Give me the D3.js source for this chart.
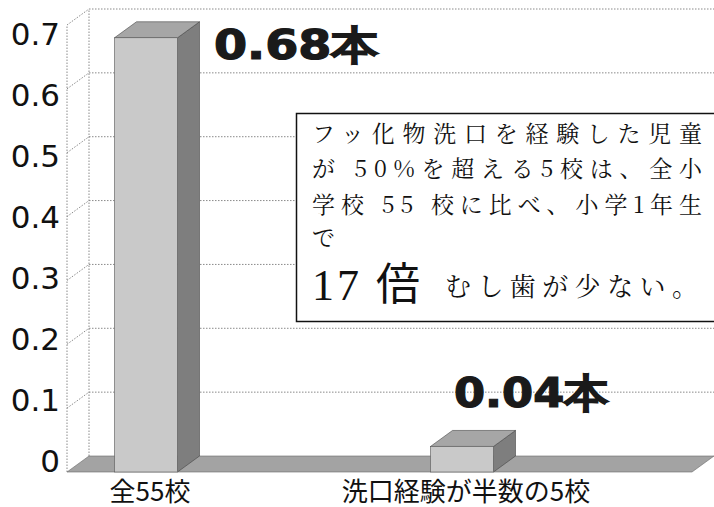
<!DOCTYPE html>
<html>
<head>
<meta charset="utf-8">
<script src="https://cdn.jsdelivr.net/npm/d3@7"></script>
<style>
  body { margin: 0; background: #fff; }
  svg { display: block; }
</style>
</head>
<body>
<script>
// data
var categories = ["全55校", "洗口経験が半数の5校"];
var values = [0.68, 0.04];
var valueLabels = ["0.68本", "0.04本"];
var yTicks = [0, 0.1, 0.2, 0.3, 0.4, 0.5, 0.6, 0.7];
var tickLabels = ["0", "0.1", "0.2", "0.3", "0.4", "0.5", "0.6", "0.7"];
var noteLines = [
  "フッ化物洗口を経験した児童",
  "が 50%を超える5校は、全小",
  "学校 55 校に比べ、小学1年生",
  "で"
];
var noteBig = "17 倍";
var noteTail = "むし歯が少ない。";

var width = 714;
var height = 507;
var svg = d3.select("body")
    .append("svg")
    .attr("width", width)
    .attr("height", height);

// 3d depth of the floor / walls
var dx = 22, dy = -16;
var x0 = 67, xEnd = 692;

var y = d3.scaleLinear().domain([0, 0.7]).range([472, 25]);
// tick labels sit a little tighter than the grid in the picture
var yLab = d3.scaleLinear().domain([0, 0.7]).range([461, 34]);
var x = d3.scalePoint().domain(categories).range([146, 462]);
var barW = 63;

var grid = svg.append("g")
    .attr("fill", "none")
    .attr("stroke", "#8a8a8a")
    .attr("stroke-width", 1)
    .attr("stroke-dasharray", "1.5,1.5");

// back wall lines
grid.selectAll("line.back")
    .data(yTicks.slice(1))
    .enter()
    .append("line")
    .attr("x1", x0 + dx)
    .attr("x2", width)
    .attr("y1", function(d){ return y(d) + dy; })
    .attr("y2", function(d){ return y(d) + dy; });

// side wall diagonals
grid.selectAll("line.diag")
    .data(yTicks.slice(1))
    .enter()
    .append("line")
    .attr("x1", x0)
    .attr("x2", x0 + dx)
    .attr("y1", function(d){ return y(d); })
    .attr("y2", function(d){ return y(d) + dy; });

grid.append("line")
    .attr("x1", x0).attr("x2", x0)
    .attr("y1", y(0)).attr("y2", y(0.7));
grid.append("line")
    .attr("x1", x0 + dx).attr("x2", x0 + dx)
    .attr("y1", y(0) + dy).attr("y2", y(0.7) + dy);

// floor
svg.append("polygon")
    .attr("points", [
        [x0, y(0)], [xEnd, y(0)], [xEnd + dx, y(0) + dy], [x0 + dx, y(0) + dy]
    ].join(" "))
    .attr("fill", "#a3a3a3")
    .attr("stroke", "#6a6a6a")
    .attr("stroke-width", 0.6);

// bars
var bars = svg.selectAll("g.bar")
    .data(values)
    .enter()
    .append("g")
    .attr("class", "bar");

bars.append("polygon") // side
    .attr("points", function(d, i){
        var r = x(categories[i]) + barW / 2;
        return [[r, y(d)], [r + dx, y(d) + dy], [r + dx, y(0) + dy], [r, y(0)]].join(" ");
    })
    .attr("fill", "#7e7e7e")
    .attr("stroke", "#444")
    .attr("stroke-width", 0.6);

bars.append("polygon") // top
    .attr("points", function(d, i){
        var l = x(categories[i]) - barW / 2, r = l + barW;
        return [[l, y(d)], [l + dx, y(d) + dy], [r + dx, y(d) + dy], [r, y(d)]].join(" ");
    })
    .attr("fill", "#a6a6a6")
    .attr("stroke", "#444")
    .attr("stroke-width", 0.6);

bars.append("rect") // front
    .attr("x", function(d, i){ return x(categories[i]) - barW / 2; })
    .attr("y", function(d){ return y(d); })
    .attr("width", barW)
    .attr("height", function(d){ return y(0) - y(d); })
    .attr("fill", "#c9c9c9")
    .attr("stroke", "#555")
    .attr("stroke-width", 0.6);

// y tick labels
svg.selectAll("text.tick")
    .data(yTicks)
    .enter()
    .append("text")
    .attr("x", 60)
    .attr("y", function(d){ return yLab(d); })
    .attr("dy", "0.36em")
    .attr("text-anchor", "end")
    .style("font-family", "'DejaVu Sans', sans-serif")
    .style("font-size", "31px")
    .style("fill", "#111")
    .text(function(d, i){ return tickLabels[i]; });

// category labels
svg.selectAll("text.cat")
    .data(categories)
    .enter()
    .append("text")
    .attr("x", function(d){ return x(d) + 4; })
    .attr("y", 501)
    .attr("text-anchor", "middle")
    .style("font-family", "'Noto Sans CJK JP', sans-serif")
    .style("font-size", "26px")
    .style("fill", "#111")
    .text(function(d){ return d; });

// value labels
var labelDx = [68, -8];
var labelDy = [21, -39];
var labelW = [165, 155];
svg.selectAll("text.val")
    .data(values)
    .enter()
    .append("text")
    .attr("x", function(d, i){ return x(categories[i]) + labelDx[i]; })
    .attr("y", function(d, i){ return y(d) + labelDy[i]; })
    .attr("textLength", function(d, i){ return labelW[i]; })
    .attr("lengthAdjust", "spacingAndGlyphs")
    .style("font-family", "'DejaVu Sans', sans-serif")
    .style("font-weight", "bold")
    .style("font-size", "40px")
    .style("fill", "#1a1a1a")
    .style("stroke", "#1a1a1a")
    .style("stroke-width", 1.2)
    .text(function(d, i){ return valueLabels[i]; });

// note box
var note = svg.append("g");
note.append("rect")
    .attr("x", 296.5)
    .attr("y", 113.5)
    .attr("width", 430)
    .attr("height", 208)
    .attr("fill", "#fff")
    .attr("stroke", "#111")
    .attr("stroke-width", 1.5);

var lineY = [142, 177, 213, 246];
note.selectAll("text.line")
    .data(noteLines)
    .enter()
    .append("text")
    .attr("x", 312)
    .attr("y", function(d, i){ return lineY[i]; })
    .attr("textLength", function(d){ return d.length > 2 ? 390 : null; })
    .attr("lengthAdjust", "spacing")
    .style("font-family", "'Noto Serif CJK JP', 'Noto Sans CJK JP', serif")
    .style("font-size", "23px")
    .style("fill", "#111")
    .text(function(d){ return d; });

note.append("text")
    .attr("x", 312)
    .attr("y", 300)
    .attr("textLength", 108)
    .attr("lengthAdjust", "spacing")
    .style("font-family", "'Liberation Serif', 'Noto Sans CJK JP', serif")
    .style("font-size", "44px")
    .style("fill", "#111")
    .text(noteBig);

note.append("text")
    .attr("x", 445)
    .attr("y", 296)
    .attr("textLength", 253)
    .attr("lengthAdjust", "spacing")
    .style("font-family", "'Noto Serif CJK JP', 'Noto Sans CJK JP', serif")
    .style("font-size", "26px")
    .style("fill", "#111")
    .text(noteTail);
</script>
</body>
</html>
